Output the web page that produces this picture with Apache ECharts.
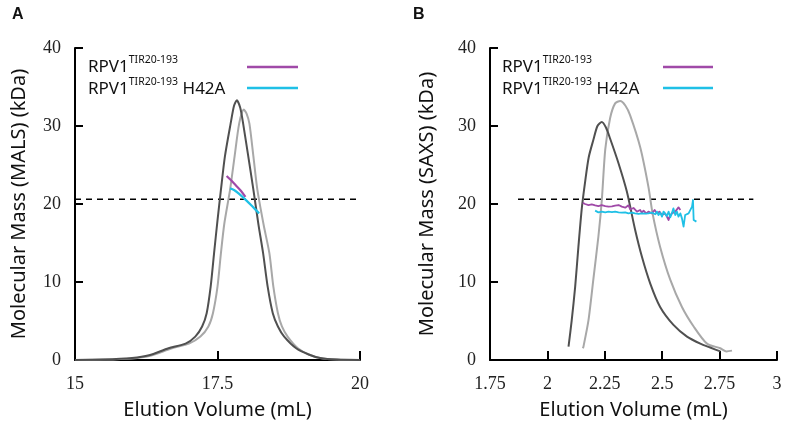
<!DOCTYPE html>
<html>
<head>
<meta charset="utf-8">
<script src="https://cdn.jsdelivr.net/npm/echarts@6/dist/echarts.min.js"></script>
<style>html,body{margin:0;padding:0;background:#fff;}#c{width:785px;height:437px;}</style>
</head>
<body>
<div id="c"></div>
<script>
// ---------- Panel A (MALS) ----------
var aDarkX  = [15.0,15.5,16.0,16.3,16.64,16.94,17.11,17.23,17.31,17.38,17.44,17.50,17.56,17.63,17.73,17.79,17.84,17.90,17.95,18.04,18.13,18.22,18.30,18.38,18.47,18.56,18.67,18.88,19.1,19.3,19.6,20.0];
var aDarkY  = [0,0.05,0.25,0.6,1.5,2.1,3.0,4.3,6.0,9.4,13.7,17.9,21.8,26.1,30.3,32.6,33.3,32.3,30.3,26.1,21.8,17.3,13.7,9.4,6.0,4.3,3.0,1.5,0.7,0.25,0.05,0];
var aLightX = [15.0,15.5,16.0,16.3,16.70,17.00,17.20,17.34,17.42,17.50,17.56,17.62,17.72,17.80,17.88,17.96,18.01,18.06,18.13,18.20,18.31,18.41,18.48,18.56,18.63,18.73,18.91,19.1,19.3,19.6,20.0];
var aLightY = [0,0.05,0.2,0.5,1.5,2.1,3.0,4.3,6.0,9.4,13.7,17.5,21.8,26.1,30.3,32.1,31.6,30.3,26.1,21.8,17.3,13.7,9.4,6.0,4.3,3.0,1.5,0.7,0.25,0.05,0];
var aPurpleX = [17.66,17.73,17.82,17.91,17.99];
var aPurpleY = [23.6,23.1,22.4,21.7,20.9];
var aCyanX = [17.72,17.79,17.88,18.0,18.11,18.23];
var aCyanY = [22.0,21.8,21.3,20.5,19.7,18.8];
var aRefX = [15,20];
var aRefY = [20.6,20.6];
var aXTicks = ['15','17.5','20'];

// ---------- Panel B (SAXS) ----------
var bDarkX = [2.092,2.106,2.121,2.135,2.150,2.165,2.180,2.200,2.218,2.237,2.255,2.273,2.310,2.346,2.382,2.412,2.448,2.491,2.549,2.608,2.666,2.709,2.753];
var bDarkY = [1.7,5.1,9.4,14.5,19.5,23.0,26.0,28.2,30.0,30.5,29.8,28.4,25.2,21.6,16.7,13.2,9.8,6.8,4.5,3.0,2.1,1.6,1.1];
var bLightX = [2.154,2.157,2.179,2.200,2.222,2.237,2.252,2.273,2.295,2.317,2.340,2.360,2.404,2.440,2.458,2.491,2.535,2.586,2.637,2.695,2.753,2.780,2.804];
var bLightY = [1.5,1.7,5.1,10.3,15.8,20.5,27.0,31.0,32.9,33.2,32.6,31.4,27.3,22.2,18.8,14.5,10.3,6.8,4.3,2.1,1.5,1.1,1.2];
var bPurpleX = [2.154,2.164,2.179,2.193,2.208,2.222,2.237,2.252,2.266,2.281,2.295,2.310,2.317,2.324,2.339,2.346,2.353,2.361,2.368,2.375,2.390,2.404,2.411,2.419,2.430,2.440,2.455,2.467,2.477,2.488,2.499,2.513,2.528,2.532,2.542,2.549,2.557,2.564,2.571,2.579];
var bPurpleY = [20.17,20.0,19.87,19.96,19.83,19.74,19.87,19.74,19.66,19.70,19.79,19.87,20.0,19.66,19.53,19.74,19.83,19.32,19.23,19.49,19.02,19.23,18.89,19.15,18.80,19.02,18.80,19.23,18.80,19.02,18.59,18.80,17.95,18.38,18.80,18.59,19.02,18.80,19.57,19.23];
var bCyanX = [2.208,2.222,2.237,2.252,2.266,2.281,2.295,2.310,2.324,2.339,2.353,2.368,2.382,2.397,2.411,2.426,2.440,2.455,2.470,2.477,2.484,2.491,2.499,2.506,2.513,2.520,2.528,2.535,2.542,2.549,2.557,2.564,2.571,2.579,2.586,2.593,2.600,2.608,2.615,2.622,2.630,2.634,2.637,2.644,2.649];
var bCyanY = [19.15,18.93,19.02,18.93,19.02,18.97,19.02,18.93,18.89,18.93,18.80,18.89,18.80,18.72,18.80,18.76,18.80,18.89,18.68,19.02,18.59,18.89,18.38,19.02,18.80,18.46,19.02,18.29,18.80,19.44,18.59,19.02,18.38,18.80,18.16,17.09,18.59,18.80,18.80,18.59,19.66,20.51,17.95,17.74,17.74];
var bRefX = [1.872,2.897];
var bRefY = [20.6,20.6];
var bXTicks = ['1.75','2','2.25','2.5','2.75','3'];

var yTicks = ['0','10','20','30','40'];
var legendNames = ['RPV1 TIR20-193', 'RPV1 TIR20-193 H42A'];

function zip(xs, ys){ return xs.map(function(x,i){ return [x, ys[i]]; }); }

var DARK = '#505050', LIGHT = '#a8a8a8', PURPLE = '#a04aa8', CYAN = '#1fc0e6';
var tickFont = {fontFamily:'Liberation Serif', fontSize:18, color:'#222'};
var nameFont = {fontFamily:'Noto Sans', fontSize:20, color:'#111'};

function xAxisCfg(gi, min, max, interval, labels, gap){
  return {
    type:'value', gridIndex:gi, min:min, max:max, interval:interval,
    axisLine:{show:true, onZero:false, lineStyle:{color:'#000', width:2}},
    axisTick:{show:true, inside:true, length:9, lineStyle:{color:'#000', width:2}},
    axisLabel:Object.assign({margin:15, formatter:function(v){ return labels[Math.round((v-min)/interval)]; }}, tickFont),
    splitLine:{show:false},
    name:'Elution Volume (mL)', nameLocation:'middle', nameGap:gap,
    nameTextStyle:nameFont
  };
}
function yAxisCfg(gi, name, gap){
  return {
    type:'value', gridIndex:gi, min:0, max:40, interval:10,
    axisLine:{show:true, onZero:false, lineStyle:{color:'#000', width:2}},
    axisTick:{show:true, inside:true, length:8, lineStyle:{color:'#000', width:2}},
    axisLabel:Object.assign({margin:14, formatter:function(v){ return yTicks[Math.round(v/10)]; }}, tickFont),
    splitLine:{show:false},
    name:name, nameLocation:'middle', nameGap:gap,
    nameTextStyle:nameFont
  };
}
function lineSeries(name, gi, data, color, width, smooth, z){
  return {name:name, type:'line', xAxisIndex:gi, yAxisIndex:gi, data:data, showSymbol:false, symbol:'none',
    smooth:smooth, lineStyle:{color:color, width:width, join:'round'}, itemStyle:{color:color}, z:z, silent:true, animation:false};
}
function refSeries(gi, data){
  return {name:'ref', type:'line', xAxisIndex:gi, yAxisIndex:gi, data:data, showSymbol:false, symbol:'none',
    lineStyle:{color:'#000', width:1.6, type:[6,5]}, z:1, silent:true, animation:false};
}

function legendText(x, y, suffix){
  return {type:'text', left:x, top:y, z:100,
    style:{text:'{a|RPV1}{s|TIR20-193}' + (suffix ? '{a| ' + suffix + '}' : ''),
      rich:{
        a:{fontFamily:'Noto Sans', fontSize:17, lineHeight:22, fill:'#111', verticalAlign:'bottom'},
        s:{fontFamily:'Noto Sans', fontSize:10.5, fill:'#111', verticalAlign:'top', padding:[1,0,0,0]}
      }}};
}
function legendLine(x1, x2, y, color){
  return {type:'line', z:100, shape:{x1:x1, y1:y, x2:x2, y2:y}, style:{stroke:color, lineWidth:2.5}};
}

var chart = echarts.init(document.getElementById('c'), null, {renderer:'canvas'});
chart.setOption({
  animation:false,
  backgroundColor:'#fff',
  grid:[
    {left:75, top:48, width:285, height:312},
    {left:490, top:48, width:287, height:312}
  ],
  xAxis:[ xAxisCfg(0, 15, 20, 2.5, aXTicks, 40), xAxisCfg(1, 1.75, 3, 0.25, bXTicks, 40) ],
  yAxis:[ yAxisCfg(0, 'Molecular Mass (MALS) (kDa)', 46), yAxisCfg(1, 'Molecular Mass (SAXS) (kDa)', 53) ],
  series:[
    refSeries(0, zip(aRefX, aRefY)),
    lineSeries('A light', 0, zip(aLightX, aLightY), LIGHT, 2, 0.25, 2),
    lineSeries('A dark', 0, zip(aDarkX, aDarkY), DARK, 2, 0.25, 3),
    lineSeries(legendNames[0], 0, zip(aPurpleX, aPurpleY), PURPLE, 2.2, 0.3, 4),
    lineSeries(legendNames[1], 0, zip(aCyanX, aCyanY), CYAN, 2.2, 0.3, 5),
    refSeries(1, zip(bRefX, bRefY)),
    lineSeries('B light', 1, zip(bLightX, bLightY), LIGHT, 2, 0.25, 2),
    lineSeries('B dark', 1, zip(bDarkX, bDarkY), DARK, 2, 0.25, 3),
    lineSeries(legendNames[0], 1, zip(bPurpleX, bPurpleY), PURPLE, 1.8, false, 4),
    lineSeries(legendNames[1], 1, zip(bCyanX, bCyanY), CYAN, 1.8, false, 5)
  ],
  graphic:[
    {type:'text', left:12, top:7, style:{text:'A', font:'bold 16px "Liberation Sans"', fill:'#111'}},
    {type:'text', left:413, top:7, style:{text:'B', font:'bold 16px "Liberation Sans"', fill:'#111'}},
    legendText(88, 55, ''),
    legendText(88, 77, 'H42A'),
    legendLine(247, 298, 67, PURPLE),
    legendLine(247, 298, 88, CYAN),
    legendText(502, 55, ''),
    legendText(502, 77, 'H42A'),
    legendLine(663, 713, 67, PURPLE),
    legendLine(663, 713, 88, CYAN)
  ]
});
</script>
</body>
</html>
